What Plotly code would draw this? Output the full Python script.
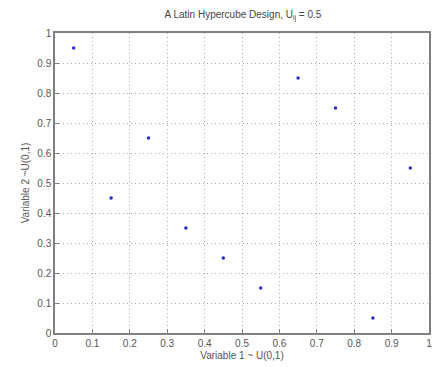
import plotly.graph_objects as go

x_vals = [0.05, 0.15, 0.25, 0.35, 0.45, 0.55, 0.65, 0.75, 0.85, 0.95]
y_vals = [0.95, 0.45, 0.65, 0.35, 0.25, 0.15, 0.85, 0.75, 0.05, 0.55]
tick_vals = [0, 0.1, 0.2, 0.3, 0.4, 0.5, 0.6, 0.7, 0.8, 0.9, 1]
tick_text = ["0", "0.1", "0.2", "0.3", "0.4", "0.5", "0.6", "0.7", "0.8", "0.9", "1"]

fig = go.Figure()
fig.add_trace(go.Scatter(x=x_vals, y=y_vals, mode="markers",
                         marker=dict(color="#2a2acc", size=3.5, symbol="circle")))

axis_common = dict(
    range=[0, 1], tickmode="array", tickvals=tick_vals, ticktext=tick_text,
    showgrid=True, gridcolor="#a8a8a8", griddash="1px,3px", gridwidth=1,
    showline=True, linecolor="#808080", linewidth=1.5, mirror=True,
    ticks="inside", ticklen=4, tickcolor="#808080", zeroline=False,
    tickfont=dict(family="Liberation Sans, Arial", size=10, color="#555555"),
)

fig.update_layout(
    width=433, height=367,
    margin=dict(l=55, r=2, t=33, b=34),
    paper_bgcolor="white", plot_bgcolor="white",
    showlegend=False,
    title=dict(text="A Latin Hypercube Design, U<sub>ij</sub> = 0.5",
               x=0.5612, xanchor="center", y=0.96, yanchor="middle",
               font=dict(family="Liberation Sans, Arial", size=10, color="#444444")),
    xaxis=dict(axis_common, title=dict(text="Variable 1 ~ U(0,1)", standoff=4,
               font=dict(family="Liberation Sans, Arial", size=10, color="#555555"))),
    yaxis=dict(axis_common, title=dict(text="Variable 2 ~U(0,1)", standoff=6,
               font=dict(family="Liberation Sans, Arial", size=10, color="#555555"))),
)

fig.write_html("out.html")
